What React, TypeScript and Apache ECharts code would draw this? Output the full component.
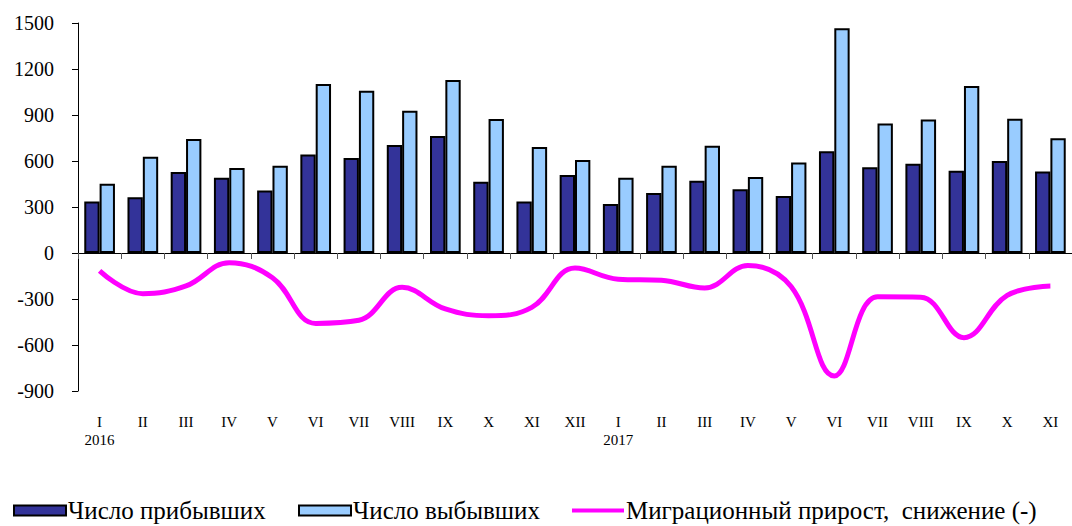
import React, { useEffect, useRef } from "react";
import * as echarts from "echarts";

const months = ["I", "II", "III", "IV", "V", "VI", "VII", "VIII", "IX", "X", "XI", "XII",
  "I", "II", "III", "IV", "V", "VI", "VII", "VIII", "IX", "X", "XI"];
const yearLabels = ["2016", "", "", "", "", "", "", "", "", "", "", "",
  "2017", "", "", "", "", "", "", "", "", "", ""];
const arrivals = [336, 363, 528, 491, 408, 643, 619, 704, 763, 465, 336, 509,
  320, 391, 472, 415, 372, 663, 559, 582, 537, 600, 532];
const departures = [452, 628, 743, 554, 569, 1102, 1058, 928, 1128, 874, 691, 607,
  491, 569, 700, 496, 591, 1465, 845, 870, 1089, 876, 748];
const netMigration = [-116, -265, -215, -63, -161, -459, -439, -224, -365, -409, -355, -98,
  -171, -178, -228, -81, -219, -802, -286, -288, -552, -276, -216];
const seriesNames = ["Число прибывших", "Число выбывших", "Миграционный прирост,  снижение (-)"];

const FONT = "Liberation Serif";

export default function App() {
  const ref = useRef<HTMLDivElement>(null);
  useEffect(() => {
    if (!ref.current) return;
    const chart = echarts.init(ref.current, null, { renderer: "svg" });
    const labels = months.map((m, i) => (yearLabels[i] ? m + "\n" + yearLabels[i] : m));
    const legendBase = {
      top: 498,
      padding: 0,
      itemWidth: 52,
      itemHeight: 10,
      textStyle: { fontFamily: FONT, fontSize: 25, color: "#000", padding: [0, 0, 0, -3] },
    };
    chart.setOption({
      animation: false,
      textStyle: { fontFamily: FONT },
      grid: { left: 78, top: 23, right: -11, bottom: 135, containLabel: false },
      legend: [
        { ...legendBase, left: 13, data: [{ name: seriesNames[0], icon: "rect" }],
          itemStyle: { borderColor: "#000", borderWidth: 2 } },
        { ...legendBase, left: 298, data: [{ name: seriesNames[1], icon: "rect" }],
          itemStyle: { borderColor: "#000", borderWidth: 2 } },
        { ...legendBase, left: 572, itemHeight: 4, data: [{ name: seriesNames[2], icon: "rect" }],
          itemStyle: { color: "#FF00FF", borderWidth: 0 } },
      ],
      xAxis: [
        {
          type: "category",
          data: months,
          position: "bottom",
          axisLine: { onZero: true, lineStyle: { color: "#000", width: 1 } },
          axisTick: { show: true, length: 6, inside: false, lineStyle: { color: "#555" } },
          axisLabel: { show: false },
          splitLine: { show: false },
        },
        {
          type: "category",
          data: labels,
          position: "bottom",
          axisLine: { show: false, onZero: false },
          axisTick: { show: false },
          axisLabel: {
            show: true,
            interval: 0,
            margin: 22,
            fontFamily: FONT,
            fontSize: 15,
            lineHeight: 18,
            color: "#000",
            verticalAlign: "top",
          },
          splitLine: { show: false },
        },
      ],
      yAxis: {
        type: "value",
        min: -900,
        max: 1500,
        interval: 300,
        axisLine: { show: true, lineStyle: { color: "#000", width: 1 } },
        axisTick: { show: true, length: 6, lineStyle: { color: "#000" } },
        axisLabel: {
          fontFamily: FONT,
          fontSize: 20,
          color: "#000",
          margin: 24,
          formatter: (v: number) => String(v),
        },
        splitLine: { show: false },
      },
      series: [
        {
          name: seriesNames[0],
          type: "bar",
          data: arrivals,
          barGap: "0%",
          barCategoryGap: "29%",
          itemStyle: { color: "#333399", borderColor: "#000", borderWidth: 2 },
        },
        {
          name: seriesNames[1],
          type: "bar",
          data: departures,
          barGap: "0%",
          barCategoryGap: "29%",
          itemStyle: { color: "#99CCFF", borderColor: "#000", borderWidth: 2 },
        },
        {
          name: seriesNames[2],
          type: "line",
          data: netMigration,
          smooth: 0.4,
          symbol: "none",
          lineStyle: { color: "#FF00FF", width: 5 },
          itemStyle: { color: "#FF00FF" },
        },
      ],
    });
    return () => chart.dispose();
  }, []);
  return (
    <div
      ref={ref}
      style={{ position: "absolute", left: 0, top: 0, width: 1072, height: 526, background: "#fff" }}
    />
  );
}
